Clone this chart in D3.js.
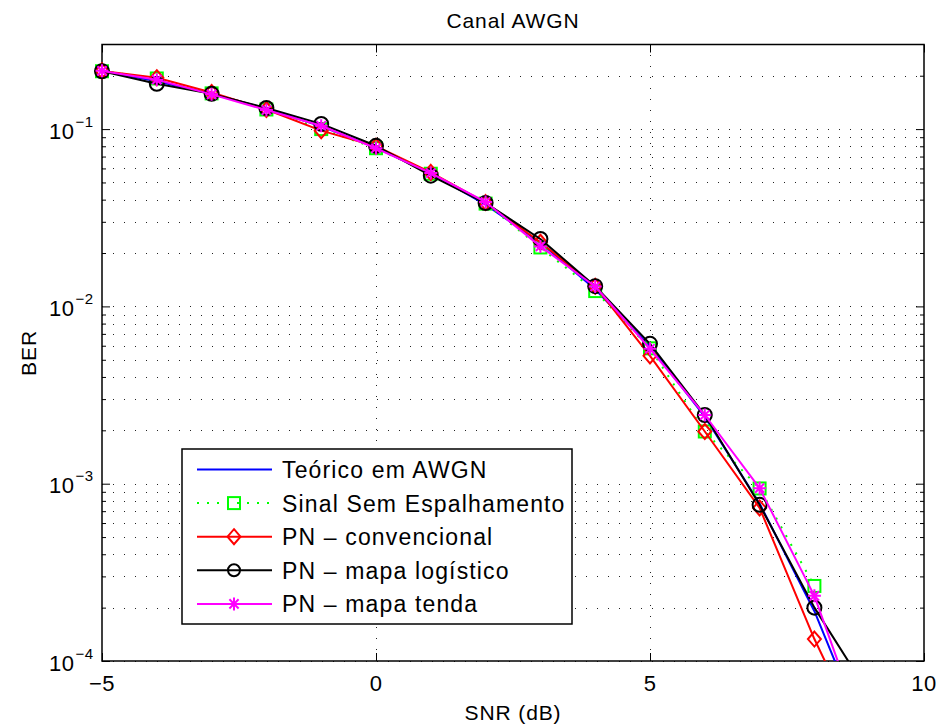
<!DOCTYPE html>
<html>
<head>
<meta charset="utf-8">
<script src="https://cdn.jsdelivr.net/npm/d3@7"></script>
<style>
  html, body { margin: 0; padding: 0; background: #fff; }
  svg { display: block; font-family: "Liberation Sans", Arial, Helvetica, sans-serif; }
</style>
</head>
<body>
<svg id="chart" width="940" height="727"></svg>
<script>
// SNR points (dB)
const snr = [-5, -4, -3, -2, -1, 0, 1, 2, 3, 4, 5, 6, 7, 8, 9];

// BER curves
const teorico   = [0.2132, 0.1861, 0.1584, 0.1306, 0.1038, 0.0786, 0.0563, 0.0375, 0.0229, 0.0125, 0.00595, 0.00239, 0.000773, 0.000191, 0.0000336];
const semEsp    = [0.212, 0.193, 0.159, 0.129, 0.100, 0.078, 0.056, 0.038, 0.0215, 0.0122, 0.0058, 0.00197, 0.00094, 0.000265];
const pnConv    = [0.213, 0.195, 0.161, 0.129, 0.098, 0.080, 0.057, 0.0385, 0.023, 0.0130, 0.00526, 0.00197, 0.00073, 0.000133, 0.00003];
const pnLogist  = [0.212, 0.180, 0.158, 0.1315, 0.107, 0.0805, 0.0546, 0.0383, 0.0240, 0.0130, 0.00615, 0.00244, 0.00076, 0.000200, 0.000065];
const pnTenda   = [0.213, 0.190, 0.157, 0.128, 0.1045, 0.078, 0.0565, 0.0388, 0.0218, 0.01295, 0.00577, 0.00244, 0.000944, 0.000233, 0.000032];

// Axis ticks
const xTicks = [-5, 0, 5, 10];
const xTickLabels = ["\u22125", "0", "5", "10"];
const yTicks = [1e-4, 1e-3, 1e-2, 1e-1];
const yTickExps = ["\u22124", "\u22123", "\u22122", "\u22121"];

const seriesNames = ["Te\u00f3rico em AWGN", "Sinal Sem Espalhamento", "PN \u2013 convencional", "PN \u2013 mapa log\u00edstico", "PN \u2013 mapa tenda"];

const margin = { left: 102, right: 16, top: 44.5, bottom: 66 };
const W = 940, H = 727;
const pw = W - margin.left - margin.right;
const ph = H - margin.top - margin.bottom;

const svg = d3.select("#chart");
const x = d3.scaleLinear().domain([-5, 10]).range([margin.left, margin.left + pw]);
const y = d3.scaleLog().domain([1e-4, 0.3]).range([margin.top + ph, margin.top]);

// minor log ticks (2..9 per decade)
const yMinor = [];
for (let e = -4; e <= -1; e++) {
  for (let m = 2; m <= 9; m++) {
    const v = m * Math.pow(10, e);
    if (v <= 0.3) yMinor.push(v);
  }
}

svg.append("defs").append("clipPath").attr("id", "plotclip")
  .append("rect").attr("x", margin.left).attr("y", margin.top).attr("width", pw).attr("height", ph);

// dotted grid
const grid = svg.append("g").attr("stroke", "#222").attr("stroke-width", 1)
  .attr("stroke-dasharray", "1,10");
grid.selectAll("line.h").data(yTicks.concat(yMinor)).join("line")
  .attr("x1", margin.left).attr("x2", margin.left + pw)
  .attr("y1", d => Math.round(y(d)) + 0.5).attr("y2", d => Math.round(y(d)) + 0.5);
grid.selectAll("line.v").data(xTicks.slice(1, -1)).join("line")
  .attr("x1", d => Math.round(x(d)) + 0.5).attr("x2", d => Math.round(x(d)) + 0.5)
  .attr("y1", margin.top + ph).attr("y2", margin.top);

// axes with inward ticks
function styleAxis(g) {
  g.select(".domain").remove();
  g.selectAll(".tick line").attr("stroke", "#000").attr("stroke-width", 1);
  g.selectAll(".tick text").remove();
}
svg.append("g").attr("transform", `translate(0,${margin.top + ph})`)
  .call(d3.axisBottom(x).tickValues(xTicks).tickSizeInner(-8).tickSizeOuter(0)).call(styleAxis);
svg.append("g").attr("transform", `translate(0,${margin.top})`)
  .call(d3.axisTop(x).tickValues(xTicks).tickSizeInner(-8).tickSizeOuter(0)).call(styleAxis);
svg.append("g").attr("transform", `translate(${margin.left},0)`)
  .call(d3.axisLeft(y).tickValues(yTicks).tickSizeInner(-8).tickSizeOuter(0)).call(styleAxis);
svg.append("g").attr("transform", `translate(${margin.left},0)`)
  .call(d3.axisLeft(y).tickValues(yMinor).tickSizeInner(-4).tickSizeOuter(0)).call(styleAxis);
svg.append("g").attr("transform", `translate(${margin.left + pw},0)`)
  .call(d3.axisRight(y).tickValues(yTicks).tickSizeInner(-8).tickSizeOuter(0)).call(styleAxis);
svg.append("g").attr("transform", `translate(${margin.left + pw},0)`)
  .call(d3.axisRight(y).tickValues(yMinor).tickSizeInner(-4).tickSizeOuter(0)).call(styleAxis);

// tick labels
svg.append("g").selectAll("text").data(xTicks).join("text")
  .attr("x", d => x(d)).attr("y", margin.top + ph + 30)
  .attr("text-anchor", "middle").attr("font-size", 22).attr("letter-spacing", 0.5).attr("fill", "#000")
  .text((d, i) => xTickLabels[i]);
const yl = svg.append("g").selectAll("g").data(yTicks).join("g")
  .attr("transform", d => `translate(0,${y(d)})`);
yl.append("text").attr("x", 74.5).attr("y", 9.5).attr("text-anchor", "end")
  .attr("font-size", 22).attr("letter-spacing", 0.5).attr("fill", "#000").text("10");
yl.append("text").attr("x", 75.5).attr("y", -2.5).attr("text-anchor", "start")
  .attr("font-size", 15).attr("letter-spacing", 0.5).attr("fill", "#000").text((d, i) => yTickExps[i]);

// frame
svg.append("rect").attr("x", margin.left).attr("y", margin.top).attr("width", pw).attr("height", ph)
  .attr("fill", "none").attr("stroke", "#000").attr("stroke-width", 1.5);

// titles
svg.append("text").attr("x", margin.left + pw / 2).attr("y", 28).attr("text-anchor", "middle")
  .attr("font-size", 21).attr("letter-spacing", 0.9).text("Canal AWGN");
svg.append("text").attr("x", margin.left + pw / 2).attr("y", 720).attr("text-anchor", "middle")
  .attr("font-size", 21).attr("letter-spacing", 0.9).text("SNR (dB)");
svg.append("text").attr("transform", "translate(36,353) rotate(-90)").attr("text-anchor", "middle")
  .attr("font-size", 21).attr("letter-spacing", 0.9).text("BER");

// markers
const markers = {
  none: () => null,
  square: (g, c) => g.append("rect").attr("x", -6).attr("y", -6).attr("width", 12).attr("height", 12)
    .attr("fill", "none").attr("stroke", c).attr("stroke-width", 2),
  diamond: (g, c) => g.append("path").attr("d", "M0,-7.5L6.5,0L0,7.5L-6.5,0Z")
    .attr("fill", "none").attr("stroke", c).attr("stroke-width", 2),
  circle: (g, c, r = 7) => g.append("circle").attr("r", r)
    .attr("fill", "none").attr("stroke", c).attr("stroke-width", 2),
  star: (g, c) => g.append("path").attr("d", "M-6.5,0H6.5M0,-6.5V6.5M-4.6,-4.6L4.6,4.6M-4.6,4.6L4.6,-4.6")
    .attr("fill", "none").attr("stroke", c).attr("stroke-width", 2)
};

const series = [
  { name: seriesNames[0], vals: teorico, color: "#0000ff", dash: null, marker: "none" },
  { name: seriesNames[1], vals: semEsp, color: "#00ff00", dash: "2,8", marker: "square" },
  { name: seriesNames[2], vals: pnConv, color: "#ff0000", dash: null, marker: "diamond" },
  { name: seriesNames[3], vals: pnLogist, color: "#000000", dash: null, marker: "circle" },
  { name: seriesNames[4], vals: pnTenda, color: "#ff00ff", dash: null, marker: "star" }
];

const line = d3.line().x(d => x(d[0])).y(d => y(d[1]));
const plot = svg.append("g");
series.forEach(s => {
  const pts = s.vals.map((v, i) => [snr[i], v]);
  plot.append("path").datum(pts).attr("d", line)
    .attr("clip-path", "url(#plotclip)")
    .attr("fill", "none").attr("stroke", s.color).attr("stroke-width", 2)
    .attr("stroke-dasharray", s.dash).attr("stroke-linejoin", "round");
  if (s.marker !== "none") {
    pts.filter(p => p[1] >= 1e-4).forEach(p => {
      const g = plot.append("g").attr("transform", `translate(${x(p[0])},${y(p[1])})`);
      markers[s.marker](g, s.color);
    });
  }
});

// legend
const lg = svg.append("g");
lg.append("rect").attr("x", 182).attr("y", 449).attr("width", 390).attr("height", 175)
  .attr("fill", "#fff").attr("stroke", "#000").attr("stroke-width", 1.5);
series.forEach((s, i) => {
  const ry = 469.5 + i * 33.6;
  lg.append("line").attr("x1", 197).attr("x2", 272).attr("y1", ry).attr("y2", ry)
    .attr("stroke", s.color).attr("stroke-width", 2).attr("stroke-dasharray", s.dash);
  if (s.marker !== "none") {
    const g = lg.append("g").attr("transform", `translate(234,${ry})`);
    if (s.marker === "circle") markers.circle(g, s.color, 6);
    else markers[s.marker](g, s.color);
  }
  lg.append("text").attr("x", 282).attr("y", ry + 8.5).attr("font-size", 23).attr("letter-spacing", 1.15)
    .attr("fill", "#000").text(s.name);
});
</script>
</body>
</html>
